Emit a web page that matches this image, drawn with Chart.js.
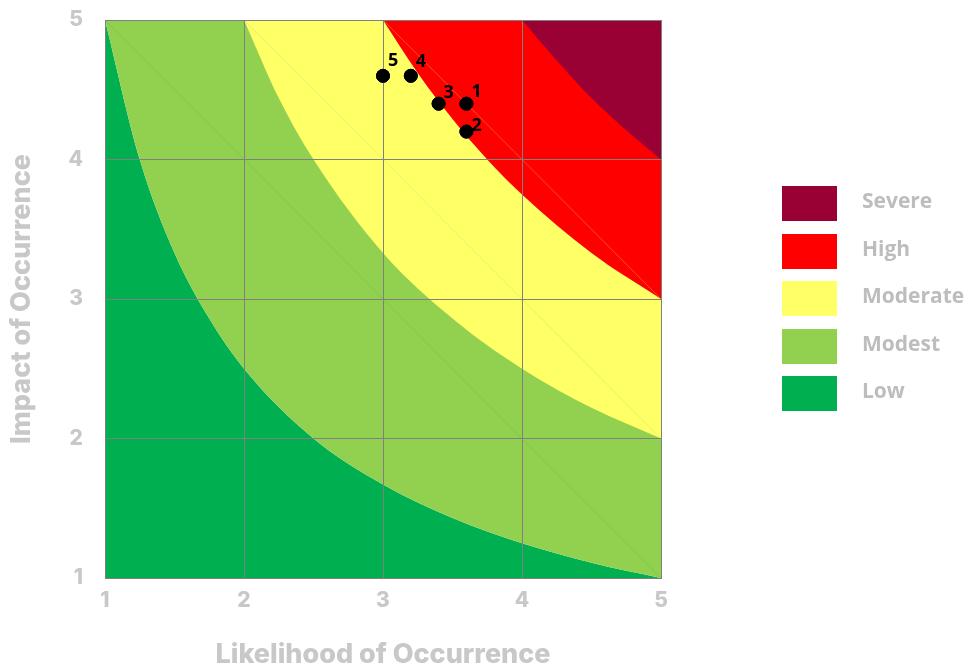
<!DOCTYPE html>
<html>
<head>
<meta charset="utf-8">
<script src="https://cdn.jsdelivr.net/npm/chart.js@4.4.1/dist/chart.umd.min.js"></script>
<style>
  body { margin: 0; background: #ffffff; }
  #wrap { position: relative; width: 978px; height: 671px; }
  #legend { position: absolute; left: 782px; top: 186px; }
  .item { position: absolute; left: 0; width: 200px; height: 35px; }
  .box { position: absolute; left: 0; top: 0; width: 55px; height: 35px; }
  .lbl { position: absolute; left: 80px; top: 0; line-height: 35px;
         font: 700 21px "Open Sans", sans-serif; color: #bdbdbd; white-space: nowrap; }
</style>
</head>
<body>
<div id="wrap">
  <canvas id="risk" width="978" height="671"></canvas>
  <div id="legend"></div>
</div>
<script>
/* ================= DATA ================= */
const axisTicks = [1, 2, 3, 4, 5];

// zone boundaries (lower edge of each zone)
const modestX = [1, 1.25, 1.5, 1.75, 2, 2.5, 3, 3.5, 4, 4.5, 5];
const modestY = [5, 4, 3.33, 2.86, 2.5, 2, 1.67, 1.43, 1.25, 1.11, 1];
const moderateX = [2, 2.25, 2.5, 3, 3.5, 4, 4.5, 5];
const moderateY = [5, 4.44, 4, 3.33, 2.86, 2.5, 2.22, 2];
const highX = [3, 3.25, 3.5, 3.75, 4, 4.5, 5];
const highY = [5, 4.62, 4.29, 4, 3.75, 3.33, 3];
const severeX = [4, 4.25, 4.5, 4.75, 5];
const severeY = [5, 4.71, 4.44, 4.21, 4];

// risks
const riskIds = ["1", "2", "3", "4", "5"];
const riskX = [3.6, 3.6, 3.4, 3.2, 3.0];
const riskY = [4.4, 4.2, 4.4, 4.6, 4.6];

const zoneNames = ["Severe", "High", "Moderate", "Modest", "Low"];
const zoneColors = ["#990033", "#ff0000", "#ffff66", "#92d050", "#00b050"];

/* ================= HELPERS ================= */
const pts = (xs, ys) => xs.map((x, i) => ({ x, y: ys[i] }));

function zone(xs, ys, color, fill) {
  return {
    type: "line",
    data: pts(xs, ys),
    borderWidth: 0,
    borderColor: color,
    backgroundColor: color,
    pointRadius: 0,
    cubicInterpolationMode: "monotone",
    fill,
  };
}

function seam(x0, y0, x1, y1, color) {
  return {
    type: "line",
    data: [{ x: x0, y: y0 }, { x: x1, y: y1 }],
    borderWidth: 1,
    borderColor: color,
    pointRadius: 0,
    fill: false,
  };
}

function noPad(s) {
  s.paddingTop = 0;
  s.paddingBottom = 0;
  s.paddingLeft = 0;
  s.paddingRight = 0;
}

const scatterIdx = 0;

/* ================= PLUGINS ================= */
// label lift above each dot (px), a few were nudged by hand in the original
const labelLift = { "1": 12, "2": 6, "3": 11, "4": 14, "5": 15 };

// grid sits above the zones, so put the risk dots back on top of it
const pointsOnTop = {
  id: "pointsOnTop",
  afterDraw(chart) {
    const meta = chart.getDatasetMeta(scatterIdx);
    meta.controller.draw();
    const ctx = chart.ctx;
    ctx.save();
    ctx.fillStyle = "#000000";
    ctx.font = "700 18px 'Open Sans', sans-serif";
    ctx.textAlign = "left";
    ctx.textBaseline = "middle";
    meta.data.forEach((p, i) => {
      ctx.fillText(riskIds[i], p.x + 5, p.y - labelLift[riskIds[i]]);
    });
    ctx.restore();
  },
};

/* ================= CHART ================= */
const tickFont = { family: "Inter", size: 21, weight: "800" };
const titleFont = { family: "Inter", size: 27, weight: "800" };
const gridOpts = { color: "#808080", lineWidth: 1, drawTicks: false, z: 1 };

new Chart(document.getElementById("risk"), {
  data: {
    datasets: [
      {
        type: "scatter",
        data: pts(riskX, riskY),
        pointRadius: 6.5,
        pointHoverRadius: 6.5,
        backgroundColor: "#000000",
        borderColor: "#000000",
      },
      seam(4, 5, 5, 4, "rgba(180,0,60,0.6)"),
      seam(3, 5, 5, 3, "rgba(255,110,40,0.7)"),
      seam(2, 5, 5, 2, "rgba(220,240,110,0.8)"),
      seam(1, 5, 5, 1, "rgba(110,200,80,0.8)"),
      zone(severeX, severeY, zoneColors[0], "end"),
      zone(highX, highY, zoneColors[1], "end"),
      zone(moderateX, moderateY, zoneColors[2], "end"),
      zone(modestX, modestY, zoneColors[3], "end"),
      zone(modestX, modestY, zoneColors[4], "start"),
    ],
  },
  options: {
    responsive: false,
    animation: false,
    layout: { padding: { left: 0, right: 317, top: 20, bottom: 0 } },
    plugins: { legend: { display: false }, tooltip: { enabled: false } },
    scales: {
      x: {
        type: "linear",
        min: 1,
        max: 5,
        z: 1,
        afterBuildTicks: (s) => { s.ticks = axisTicks.map((v) => ({ value: v })); },
        afterFit: (s) => { s.height = 93; noPad(s); },
        ticks: { color: "#c8c8c8", font: tickFont, padding: 10 },
        grid: gridOpts,
        border: { color: "#808080", width: 1, z: 1 },
        title: {
          display: true,
          text: "Likelihood of Occurrence",
          color: "#c8c8c8",
          font: titleFont,
          padding: { top: 0, bottom: 0 },
        },
      },
      y: {
        type: "linear",
        min: 1,
        max: 5,
        z: 1,
        afterBuildTicks: (s) => { s.ticks = axisTicks.map((v) => ({ value: v })); },
        afterFit: (s) => { s.width = 105; noPad(s); },
        ticks: { color: "#c8c8c8", font: tickFont, padding: 22 },
        grid: gridOpts,
        border: { color: "#808080", width: 1, z: 1 },
        title: {
          display: true,
          text: "Impact of Occurrence",
          color: "#c8c8c8",
          font: titleFont,
          padding: { top: 6, bottom: 0 },
        },
      },
    },
  },
  plugins: [pointsOnTop],
});

/* ================= LEGEND ================= */
const legend = document.getElementById("legend");
zoneNames.forEach((name, i) => {
  const item = document.createElement("div");
  item.className = "item";
  item.style.top = (i * 47.5) + "px";
  item.innerHTML = `<div class="box" style="background:${zoneColors[i]}"></div><div class="lbl">${name}</div>`;
  legend.appendChild(item);
});
</script>
</body>
</html>
